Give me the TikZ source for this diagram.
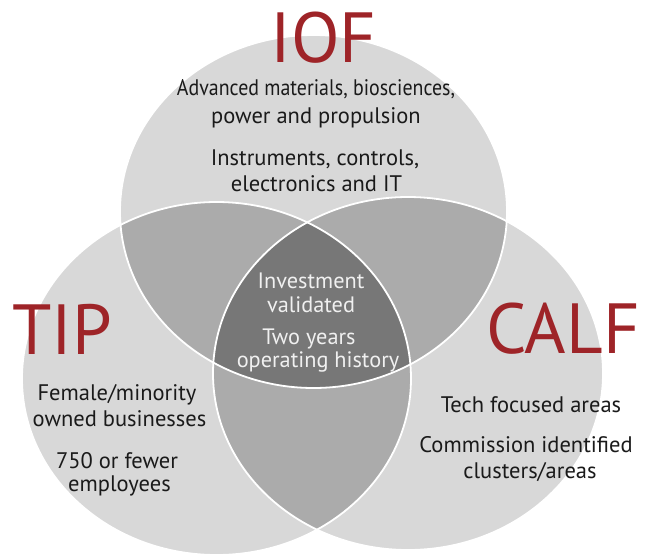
\documentclass[tikz,border=0pt]{standalone}
\usepackage{fontspec}
\setmainfont{PT Sans}
\definecolor{lightg}{RGB}{216,216,216}
\definecolor{midg}{RGB}{171,171,171}
\definecolor{darkg}{RGB}{119,119,119}
\definecolor{titlered}{RGB}{158,36,40}
\definecolor{txt}{RGB}{26,26,26}
\newcommand{\shapeT}{(313.5,211.5) ellipse [x radius=193.5pt, y radius=176.5pt]}
\newcommand{\shapeL}{(216.5,378.5) ellipse [x radius=194.5pt, y radius=176.5pt]}
\newcommand{\shapeR}{(408,373.5) ellipse [x radius=195pt, y radius=176.5pt]}
\tikzset{
  body/.style={anchor=base, inner sep=0pt, text=txt, font=\fontsize{22.5}{24}\selectfont},
  inner/.style={anchor=base, inner sep=0pt, text=white!94!black, font=\fontsize{22.3}{24}\selectfont},
  title/.style={anchor=base, inner sep=0pt, text=titlered, font=\fontsize{71}{71}\selectfont},
  outline/.style={draw=white, line width=1.8pt}
}
\begin{document}
\begin{tikzpicture}[x=1pt,y=-1pt]
\useasboundingbox (0,0) rectangle (652,557);
% single regions
\fill[lightg] \shapeT;
\fill[lightg] \shapeL;
\fill[lightg] \shapeR;
% pairwise
\begin{scope}
  \clip \shapeT;
  \fill[midg] \shapeL;
  \fill[midg] \shapeR;
\end{scope}
\begin{scope}
  \clip \shapeL;
  \fill[midg] \shapeR;
\end{scope}
% triple
\begin{scope}
  \clip \shapeT;
  \clip \shapeL;
  \fill[darkg] \shapeR;
\end{scope}
% outlines
\draw[outline] \shapeT;
\draw[outline] \shapeL;
\draw[outline] \shapeR;
% titles
\node[title] (iof) at (323.5,62) {IOF};
\node[title] (tip) at (62,354) {TIP};
\node[title] (calf) at (563,353) {CALF};
% IOF text
\node[body] (t1) at (316,95) {\scalebox{0.885}[1]{Advanced materials, biosciences,}};
\node[body] (t2) at (316,123) {power and propulsion};
\node[body] (t3) at (315,165) {Instruments, controls,};
\node[body] (t4) at (316.5,191) {electronics and IT};
% center text
\node[inner] (c1) at (311,288) {Investment};
\node[inner] (c2) at (311,312) {validated};
\node[inner] (c3) at (309,344.5) {Two years};
\node[inner] (c4) at (318,367) {operating history};
% TIP text
\node[body] (l1) at (117,400.5) {Female/minority};
\node[body] (l2) at (119.5,426.5) {owned businesses};
\node[body] (l3) at (117,468) {750 or fewer};
\node[body] (l4) at (119.5,491) {employees};
% CALF text
\node[body] (r1) at (531,412) {Tech focused areas};
\node[body] (r2) at (526,452) {Commission identified};
\node[body] (r3) at (530,478) {clusters/areas};
\end{tikzpicture}
\end{document}
